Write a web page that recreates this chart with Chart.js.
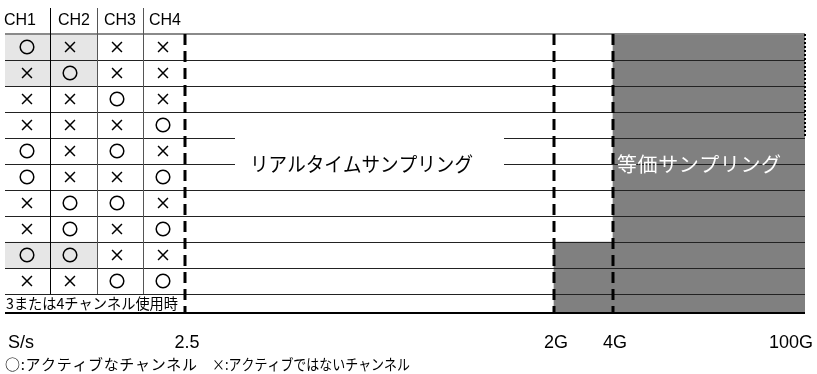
<!DOCTYPE html>
<html><head><meta charset="utf-8">
<script src="https://cdn.jsdelivr.net/npm/chart.js@4/dist/chart.umd.min.js"></script>
<style>html,body{margin:0;padding:0;background:#fff}#wrap{width:817px;height:374px;position:relative}</style>
</head><body><div id="wrap"><canvas id="c"></canvas></div>
<script>
// ---------------- data ----------------
const channels = ['CH1', 'CH2', 'CH3', 'CH4'];
const rowNames = ['CH1', 'CH2', 'CH3', 'CH4', 'CH1+CH3', 'CH1+CH4', 'CH2+CH3', 'CH2+CH4', 'CH1+CH2', 'CH3+CH4', '3または4チャンネル使用時'];
const ch1 = ['○', '×', '×', '×', '○', '○', '×', '×', '○', '×'];
const ch2 = ['×', '○', '×', '×', '×', '×', '○', '○', '○', '×'];
const ch3 = ['×', '×', '○', '×', '○', '×', '○', '×', '×', '○'];
const ch4 = ['×', '×', '×', '○', '×', '○', '×', '○', '×', '○'];
const rateUnit = 'S/s';
const rateTicks = ['2.5', '2G', '4G', '100G'];
const eqStart = ['4G', '4G', '4G', '4G', '4G', '4G', '4G', '4G', '2G', '2G', '2G'];
const eqEnd = '100G';
const pairRows = [true, true, false, false, false, false, false, false, true, false, false];
const openEnded = [true, true, true, true, false, false, false, false, false, false, false];
const regionLabels = ['リアルタイムサンプリング', '等価サンプリング'];
const legendText = ['○:アクティブなチャンネル', '×:アクティブではないチャンネル'];

// ---------------- layout (axis units, not data) ----------------
const L = {
  xMax: 800,
  colLines: [45, 92, 138],
  markX: [22, 65, 112, 158],
  headX: [15, 69, 115, 160],
  ratePos: {'2.5': 180, '2G': 549, '4G': 608, '100G': 800},
  rowH: [1, 1, 1, 1, 1, 1, 1, 1, 1, 1, 0.73],
  rtGap: [230, 499], rtLabelX: 245, eqLabelX: 612, labelBound: 5, headH: 26
};
const rowBounds = [0];
L.rowH.forEach(h => rowBounds.push(rowBounds[rowBounds.length - 1] + h));
const rowCenter = L.rowH.map((h, i) => rowBounds[i] + h / 2);
const yMax = rowBounds[rowBounds.length - 1];
const rp = r => L.ratePos[r];
const states = [ch1, ch2, ch3, ch4];

const barCommon = {
  type: 'bar', indexAxis: 'y', stack: 'bg', borderWidth: 0,
  barThickness: 'flex', categoryPercentage: 1, barPercentage: 1
};
const eqSet = Object.assign({}, barCommon, {
  label: regionLabels[1], order: 2, backgroundColor: '#808080',
  data: eqStart.map((s, i) => ({y: rowCenter[i], x: [rp(s), rp(eqEnd)]}))
});
const pairSet = Object.assign({}, barCommon, {
  label: 'CH1/CH2', order: 3, backgroundColor: '#e6e6e6',
  data: pairRows.map((p, i) => ({y: rowCenter[i], x: p ? [0, L.colLines[1]] : null}))
});
const markSets = states.map((s, c) => ({
  type: 'scatter', label: channels[c], order: 0,
  data: s.map((v, r) => ({x: L.markX[c], y: rowCenter[r]})),
  pointStyle: ctx => (s[ctx.dataIndex] === '○' ? 'circle' : 'crossRot'),
  pointRadius: ctx => (s[ctx.dataIndex] === '○' ? 6.8 : 7),
  pointHoverRadius: ctx => (s[ctx.dataIndex] === '○' ? 6.8 : 7),
  pointBorderWidth: 1.5, pointBorderColor: '#000', pointBackgroundColor: 'rgba(0,0,0,0)'
}));

function fitText(ctx, txt, x, y, w, font, color) {
  ctx.font = font; ctx.fillStyle = color || '#000';
  ctx.letterSpacing = '0px';
  const m = ctx.measureText(txt).width;
  const n = Math.max(1, [...txt].length - 1);
  if (m < w) {
    ctx.letterSpacing = ((w - m) / n).toFixed(2) + 'px';
    ctx.fillText(txt, x, y);
    ctx.letterSpacing = '0px';
  } else {
    ctx.fillText(txt, x, y, w);
  }
}

const cjk = '"Noto Sans CJK JP", sans-serif';
const lat = '"Liberation Sans", Arial, sans-serif';

const deco = {
  id: 'deco',
  afterDraw(chart) {
    const {ctx, chartArea: a, scales: {x, y}} = chart;
    const X = v => x.getPixelForValue(v), Y = v => y.getPixelForValue(v);
    ctx.save();
    // gap in the row rules behind the real-time label
    ctx.fillStyle = '#fff';
    const yb = Y(rowBounds[L.labelBound - 1]) - 2;
    ctx.fillRect(X(L.rtGap[0]), yb, X(L.rtGap[1]) - X(L.rtGap[0]), Y(rowBounds[L.labelBound]) + 3 - yb);
    // table column rules
    L.colLines.forEach((v, k) => {
      const px = Math.round(X(v)) + 0.5;
      ctx.strokeStyle = k === 0 ? '#000' : '#555'; ctx.lineWidth = 1;
      ctx.beginPath(); ctx.moveTo(px, a.top - L.headH); ctx.lineTo(px, Y(rowBounds[10])); ctx.stroke();
    });
    // headers
    ctx.fillStyle = '#000'; ctx.font = '17px ' + lat; ctx.textAlign = 'center'; ctx.textBaseline = 'alphabetic';
    channels.forEach((c, k) => ctx.fillText(c, X(L.headX[k]), a.top - 9, 32));
    // dashed rate boundaries
    ctx.strokeStyle = '#000'; ctx.lineWidth = 3; ctx.setLineDash([11, 6]);
    rateTicks.slice(0, 3).forEach(r => {
      const px = X(rp(r));
      ctx.beginPath(); ctx.moveTo(px, a.top); ctx.lineTo(px, a.bottom); ctx.stroke();
    });
    // dotted right edge for single-channel rows
    const lastOpen = openEnded.lastIndexOf(true);
    ctx.lineWidth = 2; ctx.setLineDash([2, 2]);
    ctx.beginPath(); ctx.moveTo(X(rp(eqEnd)), Y(0)); ctx.lineTo(X(rp(eqEnd)), Y(rowBounds[lastOpen + 1])); ctx.stroke();
    ctx.setLineDash([]);
    // region labels
    ctx.textAlign = 'left';
    const ly = Y(rowBounds[L.labelBound]) + 7.6;
    fitText(ctx, regionLabels[0], X(L.rtLabelX), ly, 223, '20px ' + cjk, '#000');
    fitText(ctx, regionLabels[1], X(L.eqLabelX), ly, 164, '20px ' + cjk, '#fff');
    // last row label
    const lr = rowNames.length - 1;
    fitText(ctx, rowNames[lr], X(0) + 1, Y(rowCenter[lr]) + 5.6, 172, '15px ' + cjk, '#000');
    // rate axis labels
    const base = a.bottom + 35;
    ctx.font = '18px ' + lat; ctx.fillStyle = '#000';
    ctx.textAlign = 'left'; ctx.fillText(rateUnit, a.left + 3, base);
    rateTicks.forEach((t, i) => {
      if (i === rateTicks.length - 1) { ctx.textAlign = 'right'; ctx.fillText(t, a.right + 8, base); }
      else { ctx.textAlign = 'center'; ctx.fillText(t, X(rp(t)) + 2, base); }
    });
    // legend
    ctx.textAlign = 'left';
    fitText(ctx, legendText[0], 5, a.bottom + 57, 192, '15px ' + cjk, '#000');
    fitText(ctx, legendText[1], 212, a.bottom + 57, 198, '15px ' + cjk, '#000');
    ctx.restore();
  }
};

new Chart(document.getElementById('c'), {
  type: 'scatter',
  data: {datasets: [eqSet, pairSet, ...markSets]},
  options: {
    responsive: true, maintainAspectRatio: false, animation: false, events: [],
    layout: {padding: {left: 5, right: 12, top: 34, bottom: 61}, autoPadding: false},
    plugins: {legend: {display: false}, tooltip: {enabled: false}},
    scales: {
      x: {type: 'linear', min: 0, max: L.xMax, display: false, stacked: false, offset: false, grid: {offset: false}},
      y: {
        type: 'linear', reverse: true, min: 0, max: yMax, display: true, offset: false,
        afterBuildTicks: s => { s.ticks = rowBounds.map(v => ({value: v})); },
        ticks: {display: false}, border: {display: false},
        grid: {
          offset: false, drawTicks: false, z: 1,
          color: c => (c.tick && c.tick.value === 0 ? '#8a8a8a' : (c.tick && c.tick.value === yMax ? '#000' : '#222')),
          lineWidth: c => (c.tick && (c.tick.value === 0 || c.tick.value === yMax) ? 2 : 1)
        }
      }
    }
  },
  plugins: [deco]
});
</script></body></html>
